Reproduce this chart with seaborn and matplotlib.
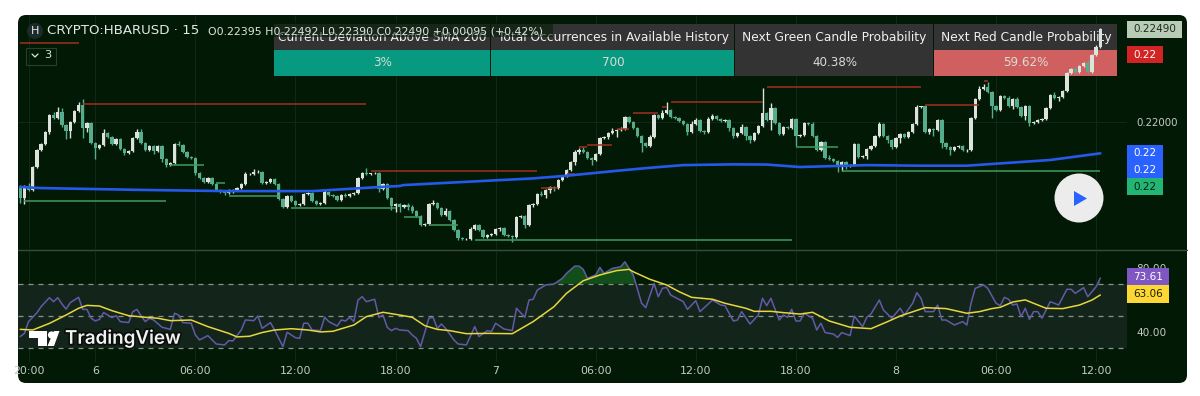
import numpy as np
import matplotlib
matplotlib.use("Agg")
import matplotlib.pyplot as plt
import matplotlib.patheffects as pe
from matplotlib.patches import FancyBboxPatch, Rectangle, Circle, Polygon
import seaborn as sns

PANEL = "#021a05"
UP = "#dce2dc"
DOWN = "#55ad8c"

# prices are in units of 0.00001
first_open = 21660
close_e5 = [
    21600,21663,21642,21763,21853,21884,21947,22037,22021,22053,21984,21953,22000,22058,22090,21968,21995,21889,21863,21879,
    21942,21921,21884,21910,21858,21837,21847,21916,21947,21889,21853,21874,21847,21874,21805,21773,21784,21884,21879,21842,
    21816,21810,21731,21705,21684,21705,21673,21642,21631,21626,21642,21642,21652,21673,21726,21726,21737,21737,21679,21684,
    21700,21673,21594,21552,21610,21584,21563,21568,21621,21626,21584,21568,21573,21631,21615,21610,21589,21615,21610,21621,
    21626,21705,21731,21726,21729,21731,21647,21673,21600,21557,21568,21552,21563,21552,21531,21505,21457,21462,21568,21573,
    21547,21510,21531,21484,21431,21389,21384,21386,21436,21457,21431,21394,21405,21410,21436,21441,21405,21399,21394,21500,
    21505,21457,21563,21568,21621,21615,21642,21658,21652,21695,21716,21747,21789,21842,21853,21842,21810,21800,21831,21916,
    21921,21942,21953,21960,21963,22026,22000,21968,21926,21889,21874,21921,22037,22021,22047,22063,22026,22021,22005,21990,
    21947,21990,22011,21953,21947,22016,22032,22016,22005,22011,21968,21926,21942,21974,21926,21905,21942,21979,22047,22011,
    22074,21995,21937,21974,21968,22016,21926,21932,21995,21990,21926,21853,21895,21810,21805,21795,21768,21789,21768,21773,
    21884,21816,21821,21858,21874,21926,21990,21926,21905,21868,21916,21937,21921,21947,21990,22079,22082,21947,21963,21958,
    22011,21889,21868,21853,21868,21874,21853,21855,22021,22121,22174,22185,22158,22084,22063,22137,22127,22084,22121,22079,
    22032,22084,21995,22000,22011,22016,22074,22142,22127,22132,22163,22258,22279,22264,22295,22311,22264,22353,22395,22490,
]
upper_wick = [
    10,5,15,5,5,5,5,5,15,25,20,5,5,5,15,30,5,5,5,5,
    20,5,5,5,5,5,5,5,15,15,5,5,5,5,5,5,5,5,15,5,
    5,5,5,5,5,5,5,5,5,5,5,5,5,5,10,5,15,10,5,5,
    5,5,5,5,5,5,5,5,5,5,5,5,5,10,5,5,5,5,10,5,
    5,5,5,25,5,5,5,5,5,5,5,5,5,10,10,5,5,5,5,15,
    5,5,15,5,5,5,5,5,10,5,5,5,5,5,5,5,5,5,5,5,
    5,5,5,5,5,15,5,5,5,5,5,5,5,10,10,15,5,5,5,5,
    5,5,15,5,10,5,5,5,5,5,5,10,5,5,15,45,5,5,5,5,
    5,15,10,5,5,10,10,5,5,5,5,5,5,15,5,5,5,5,133,5,
    26,5,5,5,5,5,5,5,5,5,10,5,5,5,15,5,5,5,5,5,
    5,5,5,5,5,5,10,5,5,5,5,5,5,5,5,10,5,5,5,5,
    5,5,5,5,5,5,5,5,5,5,15,15,25,5,5,5,5,10,5,10,
    5,5,5,5,5,5,5,5,15,5,5,5,5,10,5,5,15,5,10,5,
]
lower_wick = [
    25,30,5,5,5,5,5,10,5,5,10,45,35,5,5,50,20,5,58,5,
    5,5,5,5,5,10,5,5,5,5,5,5,15,5,15,10,5,5,5,5,
    5,5,10,5,5,5,5,5,5,10,5,15,5,5,5,5,5,5,5,5,
    5,5,5,5,5,5,5,5,5,5,5,5,5,5,5,5,5,5,5,5,
    5,5,5,5,5,5,15,5,5,20,30,25,5,15,10,5,5,5,5,5,
    5,5,5,5,5,10,5,5,5,5,5,5,5,5,5,10,5,5,25,5,
    5,15,5,10,5,5,15,15,15,5,5,5,5,15,10,5,5,25,5,5,
    5,10,5,30,5,5,5,5,5,49,5,5,5,5,5,5,5,5,5,5,
    15,5,5,5,10,5,5,5,5,5,15,10,5,5,20,15,5,5,5,5,
    53,5,5,5,5,5,53,5,5,5,5,5,5,5,5,5,30,25,15,5,
    5,5,5,15,5,5,5,5,15,10,5,25,5,5,5,5,5,5,10,30,
    5,25,10,25,5,5,5,10,5,5,5,5,5,61,5,5,5,5,15,5,
    5,20,15,5,5,5,5,5,5,15,5,5,5,10,5,5,5,5,5,5,
]

sma_bars = [0,5,30,50,70,85,91,92,107,123,131,143,151,159,171,179,187,195,203,215,227,235,247,259]
sma_e5 = [21658,21652,21642,21636,21636,21656,21663,21668,21685,21703,21717,21743,21759,21773,21777,21776,21763,21768,21773,21770,21770,21782,21800,21835]

red_start = [0,15,84,125,131,134,136,143,147,154,156,179,217,231]
red_end = [14,83,124,129,133,136,142,146,153,155,178,216,230,232]
red_level = [22418,22097,21743,21651,21726,21867,21879,21963,22046,22079,22105,22185,22088,22216]
green_start = [1,36,47,50,65,92,98,109,186,197]
green_end = [35,44,49,62,90,96,105,185,196,259]
green_level = [21584,21775,21677,21612,21548,21501,21457,21378,21870,21742]

rsi_bars = [
    0,1,2,4,5,7,8,9,10,11,12,14,15,16,17,18,19,20,21,22,23,24,26,27,28,29,30,31,32,34,36,37,38,39,41,42,43,45,47,49,
    50,51,53,54,56,57,58,60,61,63,64,66,67,68,69,70,72,73,74,76,77,78,79,80,81,82,83,85,86,87,88,89,90,91,
    93,94,95,96,98,99,100,101,102,104,105,107,109,110,112,113,114,116,118,119,121,122,123,124,126,128,130,131,133,134,
    135,136,138,139,140,142,144,145,147,149,150,152,153,154,155,156,159,160,162,163,166,168,169,171,172,173,175,177,178,179,
    180,182,183,184,185,186,187,188,190,191,192,193,195,196,197,199,200,202,203,204,206,207,209,211,212,214,215,216,217,219,
    220,221,222,224,226,227,228,229,231,232,234,235,236,237,238,239,240,241,242,243,244,245,247,248,249,251,252,253,255,256,258,259,
]
rsi_vals = [
    37.2,39.2,46.5,52,55.8,61.4,58.9,61.4,57.5,54.3,58.3,61.6,54.1,54.1,48.6,46.9,47.9,52.1,50.6,49,50.2,46.5,45.9,52.7,54.1,50,46.5,48.6,47.5,43,41.7,51.7,50.6,45.9,45.5,38.2,35.1,37.8,32.6,32,
    34.7,34.5,41.3,47.5,47.1,50,42.3,45.9,41.3,31,39.9,36.5,36.1,45.5,45.5,41.3,40.9,49.2,46.5,43.8,47.5,46.9,49.2,46.5,59.9,62,58.9,60.4,49.2,50.6,43,40.9,42.3,41.3,
    40.9,38.2,36.1,31,48.6,49.2,42.3,45,42.3,35.1,32.6,32,43.4,37.2,40.9,40.3,45.5,41.9,40.9,54.8,49.2,59.9,60.4,66.1,69.3,69.9,73.4,76.5,81,81,
    79,73.4,75.5,80.2,76.5,79.6,80.6,83.7,75.5,57.9,55.2,70.3,62,67.2,67.8,63,58.9,54.1,59.5,52.7,59.9,56.8,56.4,46.9,47.5,52.7,45,50.6,61,56.4,
    61,47.5,50.6,49.2,54.1,46.9,46.9,51.7,48.6,41.3,45.5,39.7,38.8,36.7,39.7,37.8,50,43.4,49.2,51.2,59.9,53.7,48.6,54.8,50.6,57.9,64.5,61,52.7,52.7,
    56.8,47.5,47.5,44.4,46.5,44.4,57.9,67.2,69.3,67.2,57.9,56.4,61.6,60.4,56.8,57.5,49.6,54.8,47.9,52.7,52.7,48.6,58.9,57.9,56.8,66.6,66.6,64.1,67.6,62,68.2,73.61,
]
ma_bars = [
    0,3,7,11,14,16,19,22,26,30,33,36,41,45,50,52,55,58,61,65,69,72,75,80,83,87,91,
    94,97,100,103,107,112,118,123,128,131,135,139,143,146,147,151,155,158,161,166,169,174,176,180,183,187,
    190,194,199,204,208,211,217,222,227,230,233,235,238,241,243,246,250,254,257,259,
]
ma_vals = [
    41.7,41.3,45.4,50.6,54.8,56.6,56.2,53.3,50.2,49.2,48.6,47.1,47.5,43.4,39.2,37,37.4,39.7,41.3,42.1,41.3,40.1,40.5,44.4,49.6,52.3,50.6,
    49.2,44,41.7,40.9,39,39.2,39,46.5,55.8,64.1,71.9,75.5,78.2,79,77.5,72.8,69.3,65.1,61.6,60.4,57.9,54.8,52.9,52.9,52.1,51.2,
    52.3,46.9,43,42.1,46.5,50,55.2,54.6,51.7,52.7,54.6,55.4,58.7,60,57.9,54.8,54.6,56.8,59.9,63.06,
]

tick_bars = [2,18,42,66,90,114,138,162,186,210,234,258]
tick_labels = ["20:00","6","06:00","12:00","18:00","7","06:00","12:00","18:00","8","06:00","12:00"]

table_headers = ["Current Deviation Above SMA 200","Total Occurrences in Available History","Next Green Candle Probability","Next Red Candle Probability"]
table_values = ["3%","700","40.38%","59.62%"]
table_colors = ["#089981","#089981","#333333","#d06060"]
table_edges = [274,491,735,934,1118]

sns.set_theme(style="dark", rc={"axes.facecolor": "none", "figure.facecolor": "white", "axes.edgecolor": PANEL,
                                "xtick.color": "#c4cac4", "ytick.color": "#c4cac4", "grid.color": "#152b18"})
plt.rcParams["font.family"] = ["DejaVu Sans"]

fig = plt.figure(figsize=(12, 3.96), dpi=100)


# axes placed by pixel box, y counted from the top
def px_axes(left, top, right, bottom, **kw):
    return fig.add_axes([left / 1200, 1 - bottom / 396, (right - left) / 1200, (bottom - top) / 396], **kw)


def px_layer(z):
    lay = px_axes(0, 0, 1200, 396, zorder=z)
    lay.set_xlim(0, 1200)
    lay.set_ylim(396, 0)
    lay.axis("off")
    return lay


# panel, then price grid, then table, then the candles on top
bg = px_layer(-2)
bg.add_patch(FancyBboxPatch((18, 15), 1169, 368, boxstyle="round,pad=0,rounding_size=8", mutation_scale=1,
                            fc=PANEL, ec="none"))
bg.plot([18, 1187], [250, 250], color="#3c4a3c", lw=1)

grid_ax = px_axes(18, 15, 1127, 249, zorder=-1)
grid_ax.set_xlim(-0.53, 265.4)
grid_ax.set_ylim(0.21331, 0.22564)
grid_ax.set_xticks(tick_bars)
grid_ax.set_yticks([0.22])
grid_ax.set_xticklabels([])
grid_ax.set_yticklabels([])
grid_ax.tick_params(length=0)
grid_ax.grid(True, color="#12291a", lw=0.7)
sns.despine(ax=grid_ax, left=True, bottom=True, right=True, top=True)

tb = px_layer(0)
for i, h in enumerate(table_headers):
    l, r = table_edges[i], table_edges[i + 1]
    tb.add_patch(Rectangle((l, 24), r - l - 1, 26, fc="#333333", ec="none"))
    tb.add_patch(Rectangle((l, 50), r - l - 1, 26, fc=table_colors[i], ec="none"))
    tb.text((l + r) / 2, 37.5, h, ha="center", va="center", fontsize=8.85, color="#eef0ee")
    tb.text((l + r) / 2, 63, table_values[i], ha="center", va="center", fontsize=8.6, color="#d8dcd8")

# price pane
bars = np.arange(len(close_e5))
close = np.array(close_e5) / 1e5
opens = np.r_[first_open / 1e5, close[:-1]]
high = np.maximum(opens, close) + np.array(upper_wick) / 1e5
low = np.minimum(opens, close) - np.array(lower_wick) / 1e5
colors = [UP if c >= o else DOWN for o, c in zip(opens, close)]

ax = px_axes(18, 15, 1127, 249, zorder=1)
ax.set_xlim(-0.53, 265.4)
ax.set_ylim(0.21331, 0.22564)
ax.vlines(bars, low, high, colors=colors, lw=1.0, zorder=2)
ax.bar(bars, close - opens, bottom=opens, width=0.8, color=colors, lw=0, zorder=3)
ax.hlines(np.array(red_level) / 1e5, red_start, red_end, color="#a0301f", lw=1.1, zorder=4)
ax.hlines(np.array(green_level) / 1e5, green_start, green_end, color="#3f9c5f", lw=1.1, zorder=4)
sns.lineplot(x=sma_bars, y=np.array(sma_e5) / 1e5, color="#2659ea", lw=1.9, ax=ax, zorder=5, legend=False)
ax.set_xticks(tick_bars)
ax.set_xticklabels([])
ax.set_yticks([0.22])
ax.set_yticklabels(["0.22000"], fontsize=7.4)
ax.yaxis.tick_right()
ax.tick_params(length=0, pad=7)
ax.set_xlabel("")
ax.set_ylabel("")
sns.despine(ax=ax, left=True, bottom=True, right=True, top=True)

# RSI pane
rsi = px_axes(18, 251, 1127, 362, zorder=1)
rsi.set_xlim(-0.53, 265.4)
rsi.set_ylim(21.4, 90.4)
rsi.axhspan(30, 70, color="#13251a", lw=0, zorder=1)
for lvl in [70, 50, 30]:
    rsi.axhline(lvl, color="#86938a", lw=0.9, ls=(0, (4, 4)), zorder=2)
rv = np.array(rsi_vals)
rsi.fill_between(rsi_bars, 70, rv, where=rv > 70, interpolate=True, color="#1c6b24", alpha=0.65, lw=0, zorder=2)
sns.lineplot(x=rsi_bars, y=rsi_vals, color="#6459a8", lw=1.1, ax=rsi, zorder=3, legend=False)
sns.lineplot(x=ma_bars, y=ma_vals, color="#e8d63e", lw=1.1, ax=rsi, zorder=4, legend=False)
rsi.set_xticks(tick_bars)
rsi.set_xticklabels(tick_labels, fontsize=7.9)
rsi.set_yticks([40, 80])
rsi.set_yticklabels(["40.00", "80.00"], fontsize=7.6)
rsi.yaxis.tick_right()
rsi.tick_params(axis="x", length=0, pad=3)
rsi.tick_params(axis="y", length=0, pad=7)
rsi.grid(True, axis="x", color="#12291a", lw=0.7)
rsi.set_xlabel("")
rsi.set_ylabel("")
sns.despine(ax=rsi, left=True, bottom=True, right=True, top=True)

# overlay layer: legend, price badges, watermark
ov = px_layer(5)
ov.add_patch(Rectangle((274, 22), 279, 15, fc=PANEL, ec="none", alpha=0.55))
ov.add_patch(Circle((35, 31), 8, fc="#1b2a2b", ec="none"))
ov.text(35, 31, "H", ha="center", va="center", fontsize=8, color="#e8ece8")
ov.text(47, 31, "CRYPTO:HBARUSD · 15", va="center", fontsize=9.6, color="#e4e8e4")
ov.text(208, 31, "O0.22395 H0.22492 L0.22390 C0.22490 +0.00095 (+0.42%)", va="center", fontsize=7.9, color="#dfe4df")
ov.add_patch(Rectangle((25.5, 47.5), 30, 17, fc="none", ec="#2b3d2d", lw=0.8))
ov.plot([32, 35, 38], [54, 57, 54], color="#dfe4df", lw=0.9)
ov.text(48, 55.5, "3", ha="center", va="center", fontsize=8.2, color="#dfe4df")


def badge(left, top, right, bottom, fc, label, tc):
    ov.add_patch(Rectangle((left, top), right - left, bottom - top, fc=fc, ec="none"))
    ov.text((left + right) / 2, (top + bottom) / 2, label, ha="center", va="center", fontsize=7.5, color=tc)


badge(1127, 21, 1182, 38, "#b9ccb6", "0.22490", "#1c2a1c")
badge(1127, 46, 1163, 63, "#d32424", "0.22", "#ffffff")
badge(1127, 145, 1163, 162, "#2962ff", "0.22", "#ffffff")
badge(1127, 162, 1163, 178, "#2962ff", "0.22", "#ffffff")
badge(1127, 178, 1163, 195, "#22b573", "0.22", "#04200f")
badge(1127, 268, 1169, 285, "#7e57c2", "73.61", "#ffffff")
badge(1127, 285, 1169, 303, "#fdd835", "63.06", "#1c1c08")

ov.add_patch(Circle((1079, 198), 24.5, fc="#ececec", ec="none"))
ov.add_patch(Polygon([(1074, 191), (1074, 206), (1087, 198.5)], fc="#2962ff", ec="none"))

stroke = [pe.withStroke(linewidth=2.5, foreground="#0a0f0a")]
for p in [Rectangle((29, 331), 18, 7, fc="white", ec="none"), Rectangle((38, 331), 9, 15, fc="white", ec="none"),
          Circle((51.5, 335), 3.6, fc="white", ec="none"),
          Polygon([(54, 331), (59.5, 331), (54, 346), (47.5, 346)], fc="white", ec="none")]:
    ov.add_patch(p)
ov.text(65, 339, "TradingView", va="center", fontsize=13.5, fontweight="semibold", color="#f2f2f2",
        family=["Inter", "DejaVu Sans"], path_effects=stroke)

fig.savefig("out.png", dpi=100, facecolor="white")
